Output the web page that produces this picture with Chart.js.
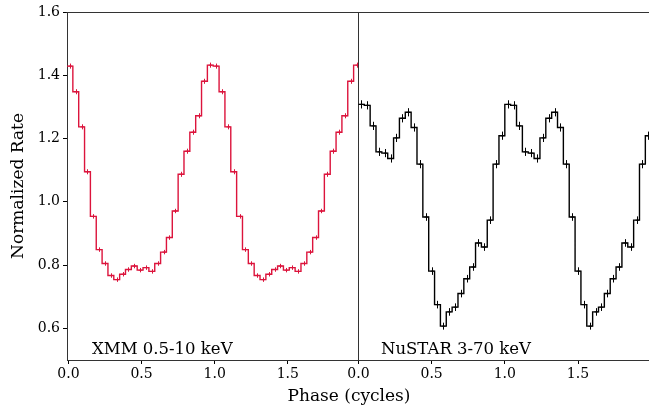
<!DOCTYPE html>
<html>
<head>
<meta charset="utf-8">
<script src="https://cdn.jsdelivr.net/npm/chart.js@4/dist/chart.umd.min.js"></script>
<style>
  html, body { margin: 0; padding: 0; background: #fff; }
  #wrap { position: relative; width: 649px; height: 410px; overflow: hidden; background: #fff; }
  #cL { position: absolute; left: 0; top: 0; }
  #cR { position: absolute; left: 320px; top: 0; }
</style>
</head>
<body>
<div id="wrap">
  <canvas id="cL" width="649" height="410"></canvas>
  <canvas id="cR" width="329" height="410"></canvas>
</div>
<script>
// ---- data (one pulse cycle, 25 phase bins; shown for two cycles) ----
const phaseBins = [0.00,0.04,0.08,0.12,0.16,0.20,0.24,0.28,0.32,0.36,0.40,0.44,0.48,
                   0.52,0.56,0.60,0.64,0.68,0.72,0.76,0.80,0.84,0.88,0.92,0.96]; // bin left edges
const binWidth = 0.04;
const cycles = [0, 1];

const xmmRate = [1.429,1.348,1.237,1.095,0.954,0.849,0.805,0.767,0.754,0.771,0.786,0.797,0.784,
                 0.792,0.780,0.805,0.841,0.887,0.971,1.087,1.160,1.220,1.272,1.381,1.432];
const xmmErr  = [0.008,0.008,0.008,0.008,0.007,0.007,0.007,0.007,0.007,0.007,0.007,0.007,0.007,
                 0.007,0.007,0.007,0.007,0.007,0.007,0.008,0.008,0.008,0.008,0.008,0.008];

const nustarRate = [1.308,1.305,1.240,1.158,1.154,1.137,1.202,1.264,1.283,1.235,1.119,0.952,0.781,
                    0.675,0.607,0.652,0.667,0.710,0.757,0.794,0.870,0.857,0.942,1.119,1.209];
const nustarErr  = [0.013,0.013,0.013,0.013,0.013,0.013,0.013,0.013,0.013,0.013,0.013,0.012,0.012,
                    0.012,0.011,0.012,0.012,0.012,0.012,0.012,0.012,0.012,0.012,0.013,0.013];

const xTicks = [0.0, 0.5, 1.0, 1.5];
const yTicks = [0.6, 0.8, 1.0, 1.2, 1.4, 1.6];
const xmmShift = -0.01;   // XMM phase bins start slightly before zero
const nustarShift = 0.0;

// ---- helpers ----
function stepPoints(rate, shift) {
  const pts = [];
  cycles.forEach(c => phaseBins.forEach((p, i) => pts.push({x: c + p + shift, y: rate[i]})));
  const lc = cycles[cycles.length - 1];
  pts.push({x: lc + phaseBins[phaseBins.length - 1] + binWidth + shift, y: rate[rate.length - 1]});
  return pts;
}
function centerPoints(rate, err, shift) {
  const pts = [];
  cycles.forEach(c => phaseBins.forEach((p, i) =>
    pts.push({x: c + p + binWidth / 2 + shift, y: rate[i], e: err[i]})));
  return pts;
}

const SERIF = "'DejaVu Serif', 'Liberation Serif', serif";
const SPINE = '#333';

const errorBars = {
  id: 'errorBars',
  afterDatasetsDraw(chart, args, opts) {
    if (!opts.points) return;
    const {ctx, chartArea: a, scales: {x, y}} = chart;
    ctx.save();
    ctx.beginPath();
    ctx.rect(a.left, a.top - 3, a.right - a.left, a.bottom - a.top + 6);
    ctx.clip();
    ctx.strokeStyle = opts.color;
    ctx.lineWidth = 1;
    ctx.beginPath();
    opts.points.forEach(p => {
      const px = Math.round(x.getPixelForValue(p.x)) + 0.5;
      const py = y.getPixelForValue(p.y);
      ctx.moveTo(px, y.getPixelForValue(p.y - p.e));
      ctx.lineTo(px, y.getPixelForValue(p.y + p.e));
      ctx.moveTo(px - 2, py);
      ctx.lineTo(px + 2, py);
    });
    ctx.stroke();
    ctx.restore();
  }
};

const frame = {
  id: 'frame',
  afterDraw(chart, args, opts) {
    const {ctx, chartArea: a} = chart;
    ctx.save();
    ctx.strokeStyle = SPINE;
    ctx.lineWidth = 1;
    ctx.beginPath();
    ctx.moveTo(a.left - 0.5, Math.round(a.top) + 0.5);
    ctx.lineTo(a.right + 0.5, Math.round(a.top) + 0.5);
    ctx.stroke();
    if (opts.label) {
      ctx.fillStyle = '#000';
      ctx.font = "16.5px " + SERIF;
      ctx.textAlign = 'left';
      ctx.textBaseline = 'alphabetic';
      ctx.fillText(opts.label, a.left + opts.frac * (a.right - a.left), a.bottom - 6);
    }
    if (opts.xTitle) {
      ctx.fillStyle = '#000';
      ctx.font = "17px " + SERIF;
      ctx.textAlign = 'center';
      ctx.textBaseline = 'alphabetic';
      ctx.fillText(opts.xTitle, opts.xTitleX, 401);
    }
    ctx.restore();
  }
};

function tickGrid() {
  return {display: true, drawOnChartArea: false, drawTicks: true, tickLength: 4, color: '#000', lineWidth: 1};
}

function makeChart(canvasId, rate, err, shift, color, xmin, xmax, isLeft, label, pad) {
  const ctx = document.getElementById(canvasId);
  return new Chart(ctx, {
    type: 'line',
    data: {
      datasets: [{
        data: stepPoints(rate, shift),
        stepped: true,
        borderColor: color,
        borderWidth: 1.4,
        pointRadius: 0,
        fill: false,
        tension: 0
      }]
    },
    options: {
      responsive: false,
      animation: false,
      events: [],
      layout: {padding: pad},
      plugins: {
        legend: {display: false},
        tooltip: {enabled: false},
        errorBars: {points: centerPoints(rate, err, shift), color: color},
        frame: isLeft
          ? {label: label, frac: 0.086, xTitle: 'Phase (cycles)', xTitleX: 349}
          : {label: label, frac: 0.079}
      },
      scales: {
        x: {
          type: 'linear',
          min: xmin,
          max: xmax,
          afterBuildTicks: s => { s.ticks = xTicks.map(v => ({value: v})); },
          afterFit: s => { s.height = 50; },
          ticks: {
            font: {family: SERIF, size: 14},
            color: '#000',
            padding: 2,
            maxRotation: 0,
            autoSkip: false,
            callback: v => Number(v).toFixed(1)
          },
          grid: tickGrid(),
          border: {display: true, color: SPINE, width: 1}
        },
        y: {
          min: 0.5,
          max: 1.6,
          afterBuildTicks: s => { s.ticks = yTicks.map(v => ({value: v})); },
          afterFit: s => { s.width = isLeft ? 67 : 38; },
          ticks: {
            display: isLeft,
            font: {family: SERIF, size: 14},
            color: '#000',
            padding: 3,
            callback: v => Number(v).toFixed(1)
          },
          grid: isLeft ? tickGrid() : {display: false},
          border: {display: true, color: SPINE, width: 1},
          title: {
            display: isLeft,
            text: 'Normalized Rate',
            font: {family: SERIF, size: 17},
            color: '#000',
            padding: {top: 8, bottom: 0}
          }
        }
      }
    },
    plugins: [errorBars, frame]
  });
}

makeChart('cL', xmmRate, xmmErr, xmmShift, 'crimson', -0.01, 1.98, true,
          'XMM 0.5-10 keV', {left: 0, right: 291, top: 12, bottom: 0});
makeChart('cR', nustarRate, nustarErr, nustarShift, '#000', -0.003, 1.985, false,
          'NuSTAR 3-70 keV', {left: 0, right: 0, top: 12, bottom: 0});
</script>
</body>
</html>
